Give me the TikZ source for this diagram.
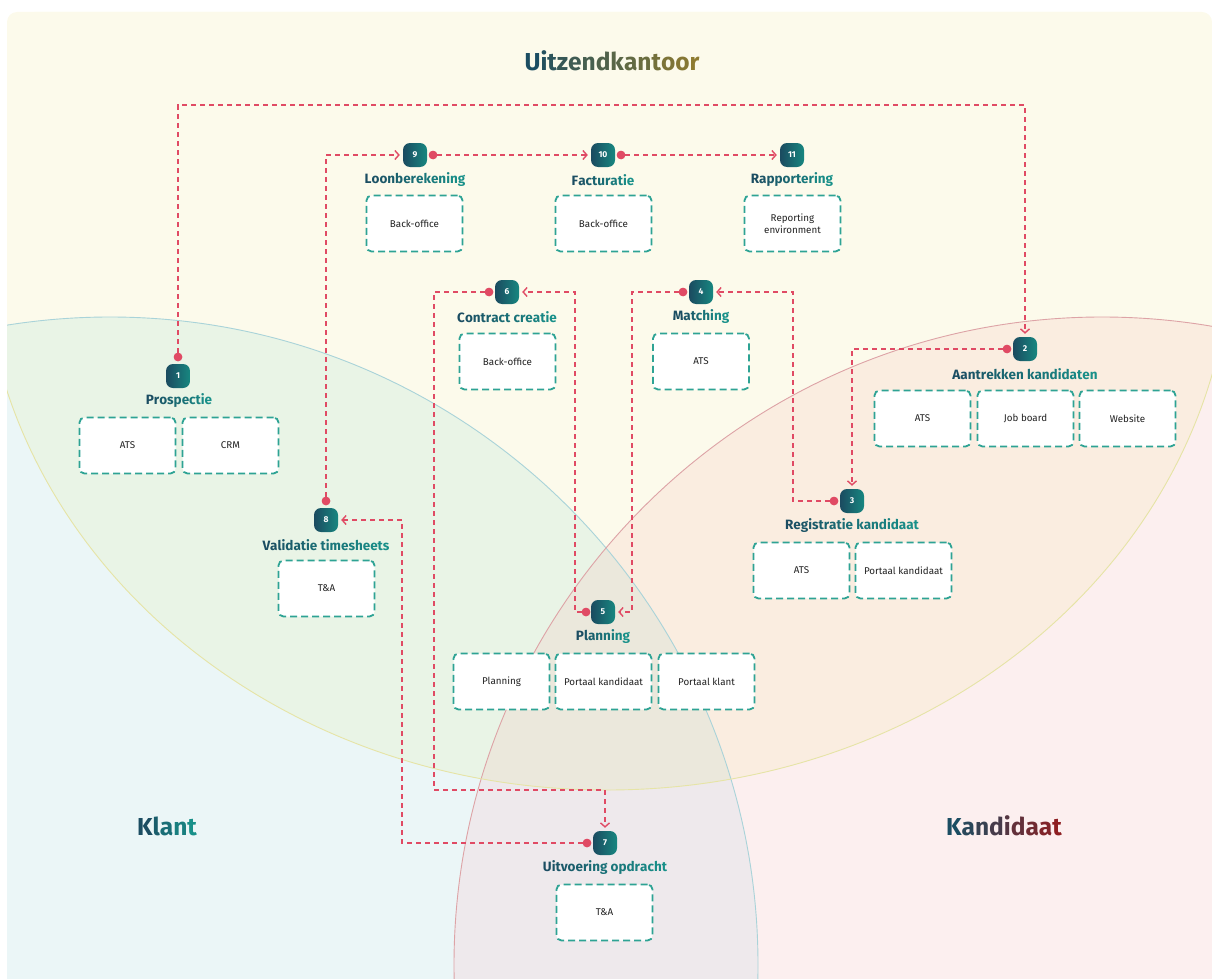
\documentclass[tikz,border=0pt]{standalone}
\usepackage{fontspec}
\setmainfont{Fira Sans}
\usetikzlibrary{arrows.meta}

% palette
\definecolor{bgyellow}{HTML}{FCFAEB}
\definecolor{bgblue}{HTML}{EBF6F7}
\definecolor{bgpink}{HTML}{FCEFEF}
\definecolor{bggreen}{HTML}{E9F4E6}
\definecolor{bgpeach}{HTML}{FAEDE0}
\definecolor{bgtriple}{HTML}{EBE8DC}
\definecolor{bgboth}{HTML}{EEE9EC}
\definecolor{klantline}{HTML}{A9D3D9}
\definecolor{kandline}{HTML}{DDA3A6}
\definecolor{uitline}{HTML}{E6E4A6}
\definecolor{linkred}{HTML}{E04A64}
\definecolor{toolteal}{HTML}{2EA394}
\definecolor{textdark}{HTML}{222222}
\definecolor{darkteal}{HTML}{1B4D62}
\definecolor{stepteal}{HTML}{189089}
\definecolor{olive}{HTML}{8E7B30}
\definecolor{wine}{HTML}{8E1F22}
\definecolor{badgeA}{HTML}{1B4B60}
\definecolor{badgeB}{HTML}{178780}

% letter-by-letter colour gradient for headings
\ExplSyntaxOn
\int_new:N \l_gt_total_int
\int_new:N \l_gt_idx_int
\tl_new:N \l_gt_col_tl
\seq_new:N \l_gt_words_seq
\cs_new_protected:Npn \gt_letter:nnn #1#2#3
  {
    \tl_set:Nx \l_gt_col_tl
      { #2 ! \int_eval:n { 100 * \l_gt_idx_int / \int_max:nn { 1 } { \l_gt_total_int - 1 } } ! #1 }
    \exp_args:NV \color \l_gt_col_tl
    #3
    \int_incr:N \l_gt_idx_int
  }
\NewDocumentCommand \gradtext { m m m }
  {
    \int_set:Nn \l_gt_total_int { \tl_count:n { #3 } }
    \int_zero:N \l_gt_idx_int
    \seq_set_split:Nnn \l_gt_words_seq { ~ } { #3 }
    \seq_map_indexed_inline:Nn \l_gt_words_seq
      {
        \int_compare:nNnT { ##1 } > { 1 } { \c_space_tl }
        \tl_map_inline:nn { ##2 } { \gt_letter:nnn { #1 } { #2 } { ####1 } }
      }
  }
\ExplSyntaxOff

\tikzset{
  badge/.style={rounded corners=7pt, left color=badgeA, right color=badgeB,
    minimum width=24pt, minimum height=24pt, inner sep=0pt, text=white,
    font=\bfseries\fontsize{8.5}{9}\selectfont},
  link/.style={draw=linkred, line width=1.4pt, dash pattern=on 5pt off 4pt,
    -{Straight Barb[length=4pt,width=9pt,line width=1.4pt]}, shorten >=3pt},
  dot/.style={circle, fill=linkred, minimum size=8.5pt, inner sep=0pt},
  tool/.style={draw=toolteal, fill=white, rounded corners=5pt, line width=1.8pt,
    dash pattern=on 7pt off 4pt, minimum width=96pt, minimum height=56pt,
    inner sep=2pt, font=\fontsize{9.8}{12.5}\selectfont, text=textdark, align=center},
  steplabel/.style={font=\bfseries\fontsize{13.5}{15}\selectfont, inner sep=0pt},
  region/.style={font=\bfseries\fontsize{24.5}{28}\selectfont, inner sep=0pt}
}

\begin{document}
\begin{tikzpicture}[x=1pt,y=-1pt]
\useasboundingbox (0,0) rectangle (1212,979);

% ---- overlapping areas: Uitzendkantoor, Klant, Kandidaat ----
\def\klant{(110,965) circle[radius=648pt]}
\def\kand{(1102,965) circle[radius=648pt]}
\def\uitz{(607,235) ellipse[x radius=625pt, y radius=555pt]}
\begin{scope}
  \clip[rounded corners=10pt] (7,12) rectangle (1212,995);
  \fill[bgyellow] (0,0) rectangle (1220,1000);
  \fill[bgblue] \klant;
  \fill[bgpink] \kand;
  \begin{scope}
    \clip \klant;
    \fill[bgboth] \kand;
  \end{scope}
  \begin{scope}
    \clip \uitz;
    \fill[bgyellow] \uitz;
    \fill[bggreen] \klant;
    \fill[bgpeach] \kand;
    \begin{scope}
      \clip \klant;
      \fill[bgtriple] \kand;
    \end{scope}
  \end{scope}
  \draw[klantline, line width=0.9pt] \klant;
  \draw[kandline, line width=0.9pt] \kand;
  \begin{scope}
    \clip (0,300) rectangle (1220,1000);
    \draw[uitline, line width=0.9pt] \uitz;
  \end{scope}
\end{scope}

% ---- area titles ----
\node[region] (tUitz) at (612,61) {\gradtext{darkteal}{olive}{Uitzendkantoor}};
\node[region] (tKlant) at (167,826) {\gradtext{darkteal}{stepteal}{Klant}};
\node[region] (tKand) at (1004,826) {\gradtext{darkteal}{wine}{Kandidaat}};

% ---- step badges ----
\node[badge] (b1) at (178,376) {1};
\node[badge] (b2) at (1025,349) {2};
\node[badge] (b3) at (852,501) {3};
\node[badge] (b4) at (701,292) {4};
\node[badge] (b5) at (603,612) {5};
\node[badge] (b6) at (507,292) {6};
\node[badge] (b7) at (605,843) {7};
\node[badge] (b8) at (326,520) {8};
\node[badge] (b9) at (415,155) {9};
\node[badge] (b10) at (603,155) {10};
\node[badge] (b11) at (792,155) {11};

% ---- start dots ----
\node[dot] (d1) at ([yshift=19pt]b1.center) {};
\node[dot] (d2) at ([xshift=-18pt]b2.center) {};
\node[dot] (d3) at ([xshift=-18pt]b3.center) {};
\node[dot] (d4) at ([xshift=-18pt]b4.center) {};
\node[dot] (d5) at ([xshift=-17pt]b5.center) {};
\node[dot] (d6) at ([xshift=-18pt]b6.center) {};
\node[dot] (d7) at ([xshift=-18pt]b7.center) {};
\node[dot] (d8) at ([yshift=19pt]b8.center) {};
\node[dot] (d9) at ([xshift=18pt]b9.center) {};
\node[dot] (d10) at ([xshift=18pt]b10.center) {};

% ---- connector bends ----
\coordinate (c12) at (0,105);
\coordinate (c34) at (793,292);
\coordinate (c45) at (632,612);
\coordinate (c56) at (575,292);
\coordinate (c67) at (434,790);
\coordinate (c78) at (402,520);

% ---- connectors ----
\draw[link] (d1) -- (d1 |- c12) -| (b2);
\draw[link] (d2) -| (b3);
\draw[link] (d3) -| (c34) -- (b4);
\draw[link] (d4) -| (c45) -- (b5);
\draw[link] (d5) -| (c56) -- (b6);
\draw[link] (d6) -| (c67) -| (b7);
\draw[link] (d7) -| (c78) -- (b8);
\draw[link] (d8) |- (b9);
\draw[link] (d9) -- (b10);
\draw[link] (d10) -- (b11);
\foreach \d in {d1,d2,d3,d4,d5,d6,d7,d8,d9,d10}
  \fill[linkred] (\d) circle[radius=4.25pt];

% ---- step titles ----
\node[steplabel] (l1) at (179,401) {\gradtext{darkteal}{stepteal}{Prospectie}};
\node[steplabel] (l2) at (1025,374) {\gradtext{darkteal}{stepteal}{Aantrekken kandidaten}};
\node[steplabel] (l3) at (852,526) {\gradtext{darkteal}{stepteal}{Registratie kandidaat}};
\node[steplabel] (l4) at (701,317) {\gradtext{darkteal}{stepteal}{Matching}};
\node[steplabel] (l5) at (603,637) {\gradtext{darkteal}{stepteal}{Planning}};
\node[steplabel] (l6) at (507,317) {\gradtext{darkteal}{stepteal}{Contract creatie}};
\node[steplabel] (l7) at (605,868) {\gradtext{darkteal}{stepteal}{Uitvoering opdracht}};
\node[steplabel] (l8) at (326,545) {\gradtext{darkteal}{stepteal}{Validatie timesheets}};
\node[steplabel] (l9) at (415,180) {\gradtext{darkteal}{stepteal}{Loonberekening}};
\node[steplabel] (l10) at (603,180) {\gradtext{darkteal}{stepteal}{Facturatie}};
\node[steplabel] (l11) at (792,180) {\gradtext{darkteal}{stepteal}{Rapportering}};

% ---- systems per step ----
\node[tool] (s9) at (414.5,223.5) {Back-office};
\node[tool] (s10) at (603.5,223.5) {Back-office};
\node[tool] (s11) at (792.5,223.5) {Reporting\\environment};
\node[tool] (s6) at (507.5,361.5) {Back-office};
\node[tool] (s4) at (701,361.5) {ATS};
\node[tool] (s1a) at (127.5,445.5) {ATS};
\node[tool] (s1b) at (230.5,445.5) {CRM};
\node[tool] (s2a) at (922.5,418.5) {ATS};
\node[tool] (s2b) at (1025.5,418.5) {Job board};
\node[tool] (s2c) at (1127.5,418.5) {Website};
\node[tool] (s3a) at (801.5,570.5) {ATS};
\node[tool] (s3b) at (903.5,570.5) {Portaal kandidaat};
\node[tool] (s8) at (326.5,588.5) {T\&A};
\node[tool] (s5a) at (501.5,681.5) {Planning};
\node[tool] (s5b) at (603.5,681.5) {Portaal kandidaat};
\node[tool] (s5c) at (706.5,681.5) {Portaal klant};
\node[tool] (s7) at (604.5,912.5) {T\&A};
\end{tikzpicture}
\end{document}
